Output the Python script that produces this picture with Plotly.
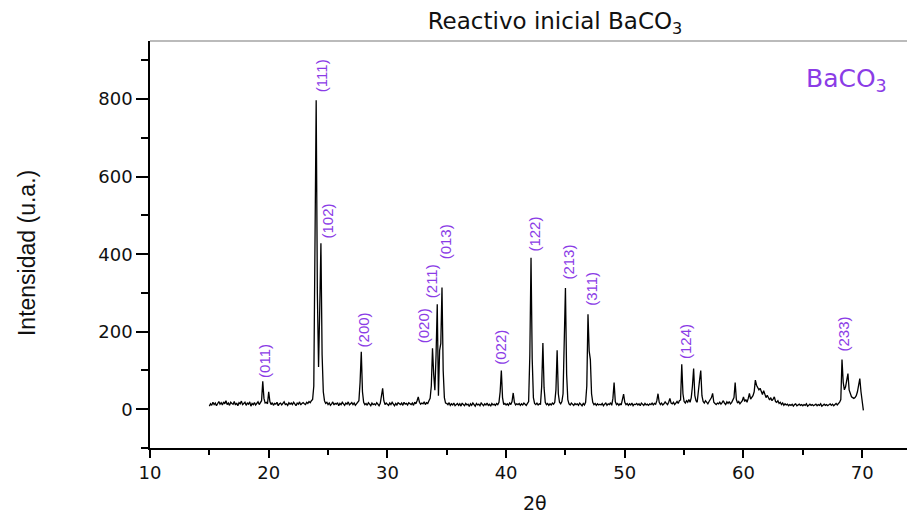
import numpy as np
import plotly.graph_objects as go

# XRD scan: 2-theta grid start/step and intensities (one row per degree)
scan_start = 15.0
scan_step = 0.1
intensity = [
    8, 14, 10, 18, 12, 16, 9, 15, 20, 13,        # 15
    17, 11, 19, 14, 22, 12, 16, 10, 18, 15,      # 16
    13, 20, 11, 16, 9, 17, 14, 21, 12, 15,       # 17
    18, 10, 16, 13, 19, 8, 15, 12, 17, 11,       # 18
    14, 19, 12, 16, 22, 72, 28, 16, 18, 14,      # 19
    45, 20, 12, 17, 10, 15, 13, 18, 9, 14,       # 20
    16, 11, 15, 19, 12, 14, 10, 17, 13, 16,      # 21
    12, 18, 14, 9, 16, 13, 19, 11, 15, 17,       # 22
    14, 12, 18, 15, 20, 17, 22, 25, 60, 420,     # 23
    797, 300, 109, 260, 428, 140, 45, 22, 15, 18,  # 24
    12, 16, 10, 14, 19, 11, 15, 13, 17, 9,       # 25
    15, 12, 18, 14, 10, 16, 13, 19, 11, 14,      # 26
    17, 12, 16, 10, 14, 18, 22, 70, 148, 45,     # 27
    18, 12, 15, 10, 17, 13, 9, 16, 12, 14,       # 28
    11, 17, 13, 9, 15, 30, 54, 22, 12, 16,       # 29
    13, 10, 16, 12, 18, 14, 9, 15, 11, 17,       # 30
    14, 12, 16, 10, 18, 13, 15, 11, 17, 14,      # 31
    12, 16, 10, 18, 14, 22, 32, 18, 13, 16,      # 32
    14, 19, 12, 17, 15, 22, 28, 60, 157, 90,     # 33
    49, 140, 271, 35, 152, 170, 314, 100, 30, 16,  # 34
    15, 12, 17, 10, 14, 11, 16, 9, 13, 15,       # 35
    10, 14, 8, 16, 12, 9, 15, 11, 13, 7,         # 36
    14, 10, 16, 12, 8, 15, 11, 13, 9, 16,        # 37
    12, 9, 14, 11, 16, 10, 13, 8, 15, 11,        # 38
    13, 10, 15, 12, 18, 45, 100, 30, 12, 15,     # 39
    11, 14, 10, 16, 12, 20, 42, 18, 11, 14,      # 40
    12, 15, 10, 14, 11, 16, 13, 10, 15, 20,      # 41
    140, 391, 130, 30, 15, 12, 16, 11, 14, 13,   # 42
    60, 171, 55, 18, 12, 15, 10, 14, 11, 16,     # 43
    13, 18, 50, 152, 40, 18, 14, 20, 40, 160,    # 44
    313, 90, 25, 14, 11, 16, 12, 10, 15, 12,     # 45
    14, 10, 16, 12, 9, 15, 11, 18, 60, 245,      # 46
    150, 128, 40, 18, 12, 15, 10, 14, 11, 13,    # 47
    11, 15, 9, 13, 16, 10, 14, 12, 17, 10,       # 48
    28, 69, 20, 12, 15, 10, 14, 11, 22, 39,      # 49
    18, 12, 15, 10, 14, 11, 16, 9, 13, 12,       # 50
    15, 11, 14, 9, 16, 12, 10, 15, 11, 13,       # 51
    10, 14, 12, 16, 11, 15, 13, 22, 40, 18,      # 52
    12, 16, 11, 14, 19, 15, 12, 18, 28, 16,      # 53
    14, 18, 12, 16, 20, 15, 22, 24, 116, 40,     # 54
    20, 16, 22, 18, 25, 18, 30, 60, 105, 35,     # 55
    22, 18, 40, 75, 100, 35, 20, 16, 22, 18,     # 56
    14, 20, 25, 30, 41, 18, 15, 12, 16, 14,      # 57
    18, 13, 17, 22, 16, 12, 19, 15, 20, 14,      # 58
    17, 22, 30, 69, 25, 16, 20, 14, 18, 22,      # 59
    32, 20, 25, 18, 28, 41, 26, 30, 35, 45,      # 60
    75, 62, 55, 50, 54, 45, 38, 48, 36, 30,      # 61
    36, 28, 24, 30, 22, 26, 32, 20, 18, 22,      # 62
    15, 18, 12, 16, 10, 14, 11, 13, 9, 12,       # 63
    10, 13, 8, 12, 14, 9, 11, 13, 10, 12,        # 64
    9, 12, 10, 14, 8, 11, 13, 10, 12, 9,         # 65
    11, 13, 9, 12, 10, 14, 8, 11, 13, 10,        # 66
    12, 9, 11, 14, 10, 13, 9, 12, 15, 11,        # 67
    14, 18, 25, 128, 70, 50, 58, 75, 92, 50,     # 68
    38, 32, 30, 28, 30, 35, 45, 65, 79, 45,      # 69
    15, -3,                                      # 70
]
two_theta = np.round(scan_start + scan_step * np.arange(len(intensity)), 2)

# Miller index labels (position of label centre in data units)
peak_labels = ["(011)", "(111)", "(102)", "(200)", "(020)", "(211)", "(013)",
               "(022)", "(122)", "(213)", "(311)", "(124)", "(233)"]
label_x = [19.7, 24.46, 24.97, 27.97, 33.0, 33.78, 34.85, 39.5, 42.43, 45.24, 47.13, 55.07, 68.46]
label_y = [125, 861, 486, 204, 214, 331, 433, 159, 453, 379, 310, 176, 195]

x_ticks = [10, 20, 30, 40, 50, 60, 70]
y_ticks = [0, 200, 400, 600, 800]

PURPLE = "#8B3CE6"
fig = go.Figure()
fig.add_trace(go.Scatter(x=two_theta, y=intensity, mode="lines",
                         line=dict(color="black", width=1.3), showlegend=False,
                         hoverinfo="skip"))

for t, lx, ly in zip(peak_labels, label_x, label_y):
    fig.add_annotation(x=lx, y=ly, xref="x", yref="y", text=t, textangle=-90,
                       showarrow=False, xanchor="center", yanchor="middle",
                       font=dict(family="Liberation Sans", size=15, color=PURPLE))

fig.add_annotation(x=0.91, y=0.904, xref="paper", yref="paper",
                   text="BaCO<sub>3</sub>", showarrow=False,
                   xanchor="center", yanchor="middle",
                   font=dict(family="DejaVu Sans", size=25, color=PURPLE))

fig.add_annotation(x=-0.1608, y=0.479, xref="paper", yref="paper",
                   text="Intensidad (u.a.)", textangle=-90, showarrow=False,
                   xanchor="center", yanchor="middle",
                   font=dict(family="Liberation Sans", size=23, color="#111"))

fig.add_annotation(x=0.503, y=-0.135, xref="paper", yref="paper",
                   text="2θ", showarrow=False, xanchor="center", yanchor="middle",
                   font=dict(family="DejaVu Sans", size=19, color="#111"))

fig.add_shape(type="line", xref="paper", yref="paper", x0=0, x1=1, y0=1, y1=1,
              line=dict(color="#bbbbbb", width=2))

axis_font = dict(family="DejaVu Sans", size=18, color="#111")
fig.update_xaxes(range=[10, 74.45], tickvals=x_ticks, ticks="outside", ticklen=8,
                 tickwidth=1.5, tickcolor="black", showline=True, linecolor="black",
                 linewidth=1.5, showgrid=False, zeroline=False, tickfont=axis_font,
                 minor=dict(dtick=5, tick0=5, ticks="outside", ticklen=5,
                            tickwidth=1.5, tickcolor="black"))
fig.update_yaxes(range=[-100, 950], tickvals=y_ticks, ticks="outside", ticklen=12,
                 tickwidth=1.5, tickcolor="black", showline=True, linecolor="black",
                 linewidth=1.5, showgrid=False, zeroline=False, tickfont=axis_font,
                 minor=dict(dtick=100, tick0=-100, ticks="outside", ticklen=7,
                            tickwidth=1.5, tickcolor="black"))

# page has an 8px body margin, so the figure is 8px smaller than the window
fig.update_layout(
    width=907, height=506,
    margin=dict(l=142, r=0, t=33, b=66),
    paper_bgcolor="white", plot_bgcolor="white",
    title=dict(text="Reactivo inicial BaCO<sub>3</sub>", x=0.6031, y=0.974,
               xref="container", yref="container", xanchor="center", yanchor="middle",
               font=dict(family="DejaVu Sans", size=23, color="#111")),
)

fig.write_html("out.html")
